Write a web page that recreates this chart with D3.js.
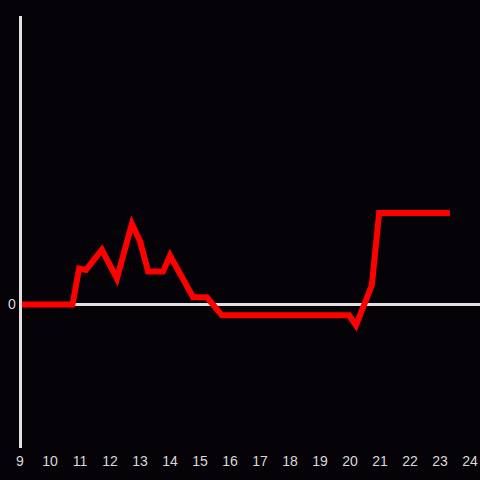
<!DOCTYPE html>
<html>
<head>
<meta charset="UTF-8">
<script src="https://cdnjs.cloudflare.com/ajax/libs/d3/7.8.5/d3.min.js"></script>
<style>
  body { margin: 0; background: #050308; }
  svg { display: block; }
  text { font-family: "Liberation Sans", Arial, sans-serif; font-size: 14px; fill: #d9d9d9; }
</style>
</head>
<body>
<div id="chart"></div>
<script>
// hours of day and the values at each
const hours  = [9, 10.75, 10.97, 11.2, 11.73, 12.23, 12.73, 13.0, 13.27, 13.77, 14.0, 14.77, 15.23, 15.73, 19.97, 20.2, 20.73, 20.97, 23.33];
const values = [0, 0, 0.25, 0.24, 0.38, 0.18, 0.56, 0.44, 0.23, 0.23, 0.34, 0.05, 0.05, -0.075, -0.075, -0.145, 0.135, 0.635, 0.635];
const xTicks = d3.range(9, 25);

const W = 480, H = 480;
const plotLeft = 20, plotRight = 480, plotTop = 16, plotBottom = 448;

const svg = d3.select("#chart").append("svg")
    .attr("width", W).attr("height", H);

svg.append("rect").attr("width", W).attr("height", H).attr("fill", "#050308");

const x = d3.scaleLinear().domain([9, 24]).range([20, 470]);
const y = d3.scaleLinear().domain([-1, 2]).range([448.5, 16.5]);

// zero line
svg.append("line")
    .attr("x1", plotLeft).attr("x2", plotRight)
    .attr("y1", y(0)).attr("y2", y(0))
    .attr("stroke", "#e0e0e0").attr("stroke-width", 3);

// x tick labels
svg.append("g").selectAll("text")
    .data(xTicks)
    .enter().append("text")
    .attr("x", d => x(d))
    .attr("y", 466)
    .attr("text-anchor", "middle")
    .text(d => d);

// y label
svg.append("text")
    .attr("x", 12).attr("y", y(0))
    .attr("dy", "0.35em")
    .attr("text-anchor", "middle")
    .text("0");

const pts = hours.map((h, i) => [h, values[i]]);
const line = d3.line().x(d => x(d[0])).y(d => y(d[1]));

svg.append("path")
    .datum(pts)
    .attr("d", line)
    .attr("fill", "none")
    .attr("stroke", "#ff0000")
    .attr("stroke-width", 6);

// y axis line
svg.append("line")
    .attr("x1", 20.5).attr("x2", 20.5)
    .attr("y1", plotTop).attr("y2", plotBottom)
    .attr("stroke", "#e0e0e0").attr("stroke-width", 3);
</script>
</body>
</html>
